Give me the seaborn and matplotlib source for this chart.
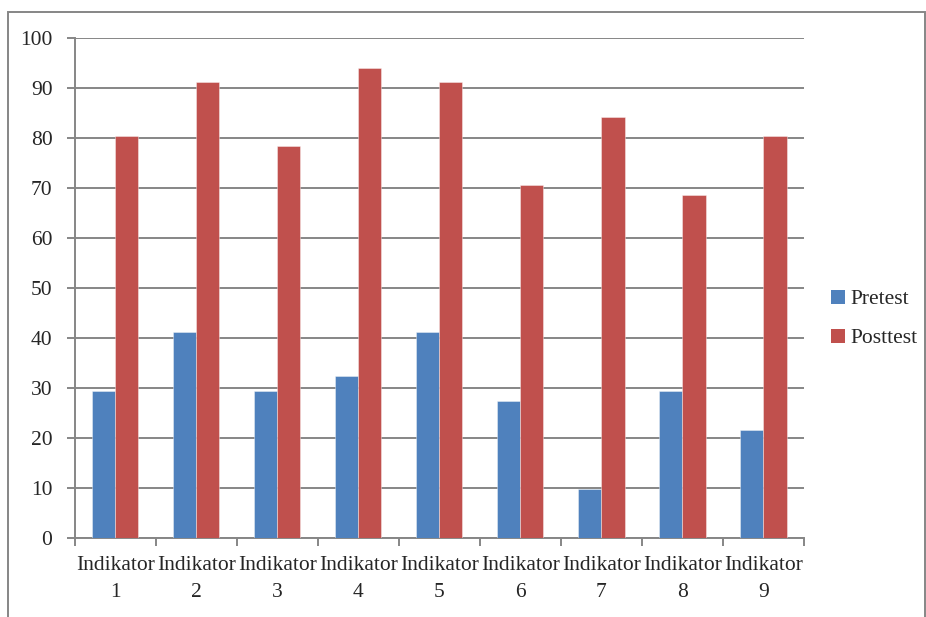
import matplotlib
matplotlib.use("Agg")
import matplotlib.pyplot as plt
from matplotlib.patches import Patch, Rectangle
from matplotlib.ticker import MultipleLocator, FixedLocator
import seaborn as sns
import pandas as pd

categories = ["Indikator\n1", "Indikator\n2", "Indikator\n3", "Indikator\n4", "Indikator\n5",
              "Indikator\n6", "Indikator\n7", "Indikator\n8", "Indikator\n9"]
pretest = [29.4, 41.2, 29.4, 32.4, 41.2, 27.5, 9.8, 29.4, 21.6]
posttest = [80.4, 91.2, 78.4, 94.1, 91.2, 70.6, 84.3, 68.6, 80.4]
series = ["Pretest", "Posttest"]
colors = ["#4F81BD", "#C0504D"]

df = pd.DataFrame({
    "Indikator": categories * 2,
    "Nilai": pretest + posttest,
    "Tes": [series[0]] * len(categories) + [series[1]] * len(categories),
})

sns.set_style("white")
plt.rcParams["font.family"] = "serif"
plt.rcParams["font.serif"] = ["Liberation Serif", "DejaVu Serif"]

FS = 15.5
fig = plt.figure(figsize=(9.26, 6.17), dpi=100)
ax = fig.add_axes([74.7 / 926, 1 - 538 / 617, (804 - 74.7) / 926, 500 / 617])

sns.barplot(data=df, x="Indikator", y="Nilai", hue="Tes", palette=colors,
            saturation=1, width=0.57, ax=ax, edgecolor=(1, 1, 1, 0.45),
            linewidth=0.6, legend=False, zorder=3)

gray = "#868686"
ax.set_ylim(0, 100)
ax.set_xlim(-0.5, len(categories) - 0.5)
ax.yaxis.set_major_locator(MultipleLocator(10))
ax.grid(axis="y", color=gray, linewidth=1.4, zorder=0)
ax.set_axisbelow(True)
ax.set_xlabel("")
ax.set_ylabel("")

ax.set_xticks(range(len(categories)))
ax.set_xticklabels(categories, linespacing=1.55)

for s in ["top", "right"]:
    ax.spines[s].set_visible(False)
for s in ["left", "bottom"]:
    ax.spines[s].set_color(gray)
    ax.spines[s].set_linewidth(1.4)

ax.tick_params(axis="y", which="major", length=6, width=1.4, color=gray,
               labelsize=FS, pad=10, left=True)
ax.tick_params(axis="x", which="major", length=0, labelsize=FS, pad=13)
ax.xaxis.set_minor_locator(FixedLocator([i - 0.5 for i in range(len(categories) + 1)]))
ax.tick_params(axis="x", which="minor", length=6, width=1.4, color=gray, bottom=True)

handles = [Patch(facecolor=c, edgecolor="none", label=l) for c, l in zip(colors, series)]
fig.legend(handles=handles, loc="center left", bbox_to_anchor=(831 / 926, 1 - 319 / 617),
           frameon=False, fontsize=FS, handlelength=0.65, handleheight=0.65,
           handletextpad=0.25, labelspacing=0.9, borderpad=0, borderaxespad=0)

fig.patches.append(Rectangle((8 / 926, -0.05), 916.5 / 926, 1.05 - 12 / 617,
                             transform=fig.transFigure, fill=False,
                             edgecolor=gray, linewidth=1.4))

fig.savefig("out.png", dpi=100)
